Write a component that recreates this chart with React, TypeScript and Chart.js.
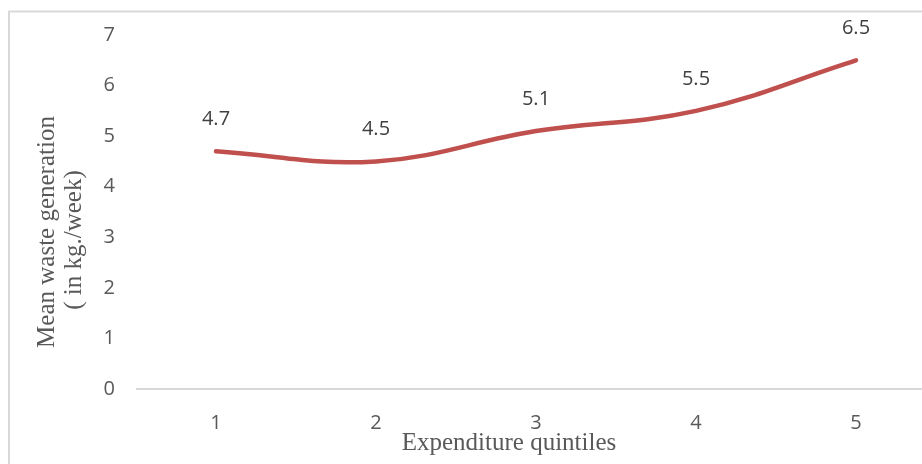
import React, { useEffect, useRef } from "react";
import { Chart, registerables } from "chart.js";

Chart.register(...registerables);

// Expenditure quintiles and mean weekly waste generation (kg)
const quintiles = [1, 2, 3, 4, 5];
const meanWaste = [4.7, 4.5, 5.1, 5.5, 6.5];
const yTicks = [0, 1, 2, 3, 4, 5, 6, 7];
const xTitle = "Expenditure quintiles";
const yTitleLines = ["Mean waste generation", "( in kg./week)"];

const W = 922;
const H = 464;
const TEXT = "#595959";
const LINE = "#C0504D";
const RULE = "#D9D9D9";
const SANS = "'Open Sans', 'Noto Sans', sans-serif";
const SERIF = "'Liberation Serif', 'DejaVu Serif', serif";

// frame, axis titles and value labels
const decorations = {
  id: "decorations",
  beforeDraw(chart: any) {
    const { ctx } = chart;
    ctx.save();
    ctx.fillStyle = "#ffffff";
    ctx.fillRect(0, 0, W, H);
    ctx.strokeStyle = RULE;
    ctx.lineWidth = 2;
    ctx.strokeRect(9, 11.5, W + 40, H + 40);
    ctx.restore();
  },
  afterDatasetsDraw(chart: any) {
    const { ctx } = chart;
    const meta = chart.getDatasetMeta(0);
    ctx.save();
    ctx.font = `20px ${SANS}`;
    ctx.fillStyle = "#404040";
    ctx.textAlign = "center";
    ctx.textBaseline = "middle";
    meta.data.forEach((pt: any, i: number) => {
      ctx.fillText(String(meanWaste[i]), pt.x, pt.y - 32);
    });
    ctx.restore();
  },
  afterDraw(chart: any) {
    const { ctx } = chart;
    ctx.save();
    ctx.fillStyle = TEXT;
    ctx.font = `25px ${SERIF}`;
    ctx.textAlign = "center";
    ctx.textBaseline = "middle";
    ctx.fillText(xTitle, 509, 443);
    const xs = [47, 74];
    const ys = [232, 240];
    yTitleLines.forEach((line, i) => {
      ctx.save();
      ctx.translate(xs[i], ys[i]);
      ctx.rotate(-Math.PI / 2);
      ctx.fillText(line, 0, 0);
      ctx.restore();
    });
    ctx.restore();
  },
};

export default function App() {
  const ref = useRef<HTMLCanvasElement | null>(null);

  useEffect(() => {
    if (!ref.current) return;
    const left = 136;
    const bottom = 389;
    const top = 35;
    const unit = 160;
    const chart = new Chart(ref.current, {
      type: "line",
      data: {
        datasets: [
          {
            data: quintiles.map((q, i) => ({ x: q, y: meanWaste[i] })),
            borderColor: LINE,
            borderWidth: 4.5,
            borderCapStyle: "round",
            borderJoinStyle: "round",
            pointRadius: 0,
            tension: 0.4,
            fill: false,
          },
        ],
      },
      options: {
        responsive: false,
        animation: false,
        events: [],
        layout: { padding: { top, left: 0, right: 0, bottom: 0 } },
        plugins: {
          legend: { display: false },
          tooltip: { enabled: false },
          title: { display: false },
        },
        scales: {
          x: {
            type: "linear",
            min: 0.5,
            max: 0.5 + (W - left) / unit,
            afterBuildTicks: (scale: any) => {
              scale.ticks = quintiles.map((v) => ({ value: v }));
            },
            afterFit: (scale: any) => {
              scale.height = H - bottom;
            },
            grid: { display: false },
            border: { display: false },
            ticks: {
              color: TEXT,
              font: { family: SANS, size: 20 },
              padding: 14,
              maxRotation: 0,
              autoSkip: false,
              callback: (v: any) => String(v),
            },
          },
          y: {
            min: 0,
            max: 7,
            afterBuildTicks: (scale: any) => {
              scale.ticks = yTicks.map((v) => ({ value: v }));
            },
            afterFit: (scale: any) => {
              scale.width = left;
            },
            border: { display: false },
            grid: {
              drawTicks: false,
              lineWidth: 2,
              color: (c: any) => (c.tick && c.tick.value === 0 ? RULE : "rgba(0,0,0,0)"),
            },
            ticks: {
              color: TEXT,
              font: { family: SANS, size: 20 },
              padding: 21,
              callback: (v: any) => String(v),
            },
          },
        },
      },
      plugins: [decorations],
    });
    return () => chart.destroy();
  }, []);

  return (
    <div
      style={{
        position: "fixed",
        left: 0,
        top: 0,
        width: W,
        height: H,
        overflow: "hidden",
        background: "#fff",
      }}
    >
      <canvas ref={ref} width={W} height={H} style={{ display: "block" }} />
    </div>
  );
}
